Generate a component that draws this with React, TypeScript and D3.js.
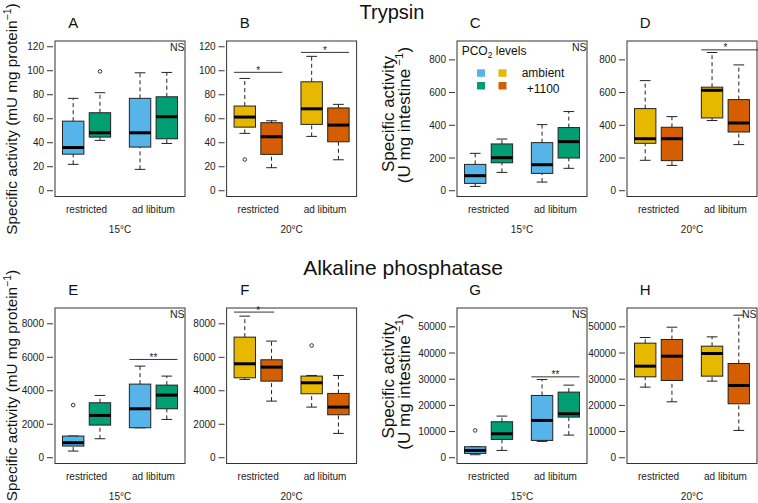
import React from "react";
import * as d3 from "d3";

const categories = ["restricted", "ad libitum"];
const temps = ["15°C", "20°C", "15°C", "20°C", "15°C", "20°C", "15°C", "20°C"];
const panelLetters = ["A", "B", "C", "D", "E", "F", "G", "H"];
const titles = ["Trypsin", "Alkaline phosphatase"];
const legendLabels = ["ambient", "+1100"];

// box stats: [lowWhisker, q1, median, q3, highWhisker]; order: restricted-ambient, restricted-+1100, adlib-ambient, adlib-+1100
const trypsinProt15 = [[22, 30.5, 36, 58, 77], [42, 44.7, 48.3, 65, 81.7], [17.8, 36.4, 48.3, 77, 98.3], [39.4, 43.3, 61.7, 78.3, 98.6]];
const trypsinProt20 = [[47.8, 53, 61.4, 70.6, 93.6], [19.2, 30.3, 45, 56.7, 58.3], [45.3, 55.3, 68.3, 90.8, 112], [25.8, 40.8, 54.7, 69, 72]];
const trypsinInt15 = [[26.5, 45, 92, 161, 228.6], [112, 171, 202, 286, 316], [53, 106, 159, 294, 404], [137, 200, 300, 386, 484]];
const trypsinInt20 = [[186, 290, 318, 502, 673], [155, 184, 318, 388, 453], [429, 445, 614, 633, 845], [282, 359, 414, 557, 769]];
const alpProt15 = [[398, 697, 896, 1294, 1300], [1134, 1950, 2527, 3284, 3721], [1791, 1791, 2925, 4398, 5473], [2289, 2925, 3741, 4338, 4876]];
const alpProt20 = [[4677, 4776, 5612, 7204, 8458], [3383, 4577, 5413, 5851, 6965], [3025, 3821, 4478, 4876, 4915], [1453, 2567, 3025, 3841, 4915]];
const alpInt15 = [[1145, 1654, 2799, 4198, 4198], [2799, 6997, 9160, 13740, 15903], [6234, 6616, 14249, 23791, 29898], [8651, 15522, 16794, 25064, 27735]];
const alpInt20 = [[26972, 30916, 34987, 43766, 45929], [21374, 29517, 38804, 45165, 49873], [29262, 31170, 39822, 42621, 46183], [10433, 20611, 27608, 36005, 54453]];

const outA = [[], [99.5], [], []];
const outB = [[26], [], [], []];
const outE = [[3144], [], [], []];
const outF = [[], [], [6706], []];
const outG = [[10433], [], [], []];
const noOut = [[], [], [], []];

const ylimProt = [0, 120];
const ylimInt = [0, 880];
const ylimAlpProt = [0, 8600];
const ylimAlpInt = [0, 55000];
const ticksProt = [0, 20, 40, 60, 80, 100, 120];
const ticksInt = [0, 200, 400, 600, 800];
const ticksAlpProt = [0, 2000, 4000, 6000, 8000];
const ticksAlpInt = [0, 10000, 20000, 30000, 40000, 50000];

// significance: [fromPos, toPos, starPos, value, label]
const sigB = [[0.6, 2.4, 1.5, 98.7, "*"], [3.1, 4.9, 4.0, 115.3, "*"]];
const sigD = [[3.1, 5.3, 4.0, 861, "*"]];
const sigE = [[3.1, 4.9, 4.0, 5870, "**"]];
const sigF = [[0.6, 2.1, 1.5, 8700, "*"]];
const sigG = [[3.1, 4.9, 4.0, 30900, "**"]];

const COLORS15 = ["#56B4E9", "#009E73"];
const COLORS20 = ["#E6B800", "#D55E00"];
const FONT = "'Liberation Sans', Arial, Helvetica, sans-serif";
const positions = [1, 2, 3.5, 4.5];

const panels = [
  { stats: trypsinProt15, out: outA, ylim: ylimProt, ticks: ticksProt, sig: [], ns: true, left: 55, top: 41, colors: COLORS15 },
  { stats: trypsinProt20, out: outB, ylim: ylimProt, ticks: ticksProt, sig: sigB, ns: false, left: 226.6, top: 41, colors: COLORS20 },
  { stats: trypsinInt15, out: noOut, ylim: ylimInt, ticks: ticksInt, sig: [], ns: true, left: 457, top: 41, colors: COLORS15 },
  { stats: trypsinInt20, out: noOut, ylim: ylimInt, ticks: ticksInt, sig: sigD, ns: false, left: 627, top: 41, colors: COLORS20 },
  { stats: alpProt15, out: outE, ylim: ylimAlpProt, ticks: ticksAlpProt, sig: sigE, ns: true, left: 55, top: 308, colors: COLORS15 },
  { stats: alpProt20, out: outF, ylim: ylimAlpProt, ticks: ticksAlpProt, sig: sigF, ns: false, left: 226.6, top: 308, colors: COLORS20 },
  { stats: alpInt15, out: outG, ylim: ylimAlpInt, ticks: ticksAlpInt, sig: sigG, ns: true, left: 457, top: 308, colors: COLORS15 },
  { stats: alpInt20, out: noOut, ylim: ylimAlpInt, ticks: ticksAlpInt, sig: [], ns: true, left: 627, top: 308, colors: COLORS20 },
];

const PW = 130;
const PH = 155.5;

function Panel({ p, i }: { p: any; i: number }) {
  const x = d3.scaleLinear().domain([0.32, 5.18]).range([p.left, p.left + PW]);
  const span = p.ylim[1] - p.ylim[0];
  const y = d3
    .scaleLinear()
    .domain([p.ylim[0] - 0.04 * span, p.ylim[1] + 0.04 * span])
    .range([p.top + PH, p.top]);
  const bw = 0.8;
  const stroke = "#222";
  const colors = [p.colors[0], p.colors[1], p.colors[0], p.colors[1]];
  const fmt = d3.format("d");
  return (
    <g>
      <text x={x(1)} y={p.top - 13} fontSize={15} textAnchor="middle" fontFamily={FONT} fill="#111">
        {panelLetters[i]}
      </text>
      {p.stats.map((s: number[], k: number) => {
        const c = positions[k];
        const x0 = x(c - bw / 2);
        const x1 = x(c + bw / 2);
        const cx = x(c);
        return (
          <g key={k}>
            <line x1={cx} x2={cx} y1={y(s[3])} y2={y(s[4])} stroke={stroke} strokeDasharray="4,3" strokeWidth={1} />
            <line x1={cx} x2={cx} y1={y(s[0])} y2={y(s[1])} stroke={stroke} strokeDasharray="4,3" strokeWidth={1} />
            <line x1={x(c - 0.2)} x2={x(c + 0.2)} y1={y(s[4])} y2={y(s[4])} stroke={stroke} strokeWidth={1} />
            <line x1={x(c - 0.2)} x2={x(c + 0.2)} y1={y(s[0])} y2={y(s[0])} stroke={stroke} strokeWidth={1} />
            <rect x={x0} y={y(s[3])} width={x1 - x0} height={y(s[1]) - y(s[3])} fill={colors[k]} stroke={stroke} strokeWidth={1} />
            <line x1={x0} x2={x1} y1={y(s[2])} y2={y(s[2])} stroke="#000" strokeWidth={3} />
            {p.out[k].map((o: number, j: number) => (
              <circle key={j} cx={cx} cy={y(o)} r={1.8} fill="none" stroke={stroke} strokeWidth={0.9} />
            ))}
          </g>
        );
      })}
      <rect x={p.left} y={p.top} width={PW} height={PH} fill="none" stroke="#333" strokeWidth={1} />
      {p.ticks.map((t: number) => (
        <g key={t}>
          <line x1={p.left - 8} x2={p.left - 2} y1={y(t)} y2={y(t)} stroke="#333" strokeWidth={1} />
          <text x={p.left - 11} y={y(t) + 3.5} fontSize={10} textAnchor="end" fontFamily={FONT} fill="#222">
            {fmt(t)}
          </text>
        </g>
      ))}
      {categories.map((c, k) => (
        <text key={c} x={x(k === 0 ? 1.5 : 4)} y={p.top + PH + 16.5} fontSize={10} textAnchor="middle" fontFamily={FONT} fill="#222">
          {c}
        </text>
      ))}
      <text x={p.left + PW / 2} y={p.top + PH + 36} fontSize={10} textAnchor="middle" fontFamily={FONT} fill="#222">
        {temps[i]}
      </text>
      {p.ns && (
        <text x={p.left + PW - 0.5} y={p.top + 9.5} fontSize={10.5} textAnchor="end" fontFamily={FONT} fill="#222">
          NS
        </text>
      )}
      {p.sig.map((s: any[], k: number) => (
        <g key={k}>
          <line x1={x(s[0])} x2={Math.min(x(s[1]), 758)} y1={y(s[3])} y2={y(s[3])} stroke="#333" strokeWidth={1} />
          <text x={x(s[2])} y={y(s[3]) + 1.5} fontSize={10} textAnchor="middle" fontFamily={FONT} fill="#222">
            {s[4]}
          </text>
        </g>
      ))}
    </g>
  );
}

export default function App() {
  const rowCenters = [119, 385.5];
  return (
    <svg width={758} height={503} style={{ position: "absolute", left: 0, top: 0, background: "#fff" }}>
      <rect width={758} height={503} fill="#fff" />
      <text x={392} y={18.5} fontSize={20} textAnchor="middle" fontFamily={FONT} fill="#111">
        {titles[0]}
      </text>
      <text x={403} y={275} fontSize={21} textAnchor="middle" fontFamily={FONT} fill="#111">
        {titles[1]}
      </text>
      {rowCenters.map((cy, r) => (
        <g key={r}>
          <text transform={`translate(17,${cy}) rotate(-90)`} fontSize={15.3} textAnchor="middle" fontFamily={FONT} fill="#111">
            Specific activity (mU mg protein
            <tspan fontSize={10.5} dy={-6}>−1</tspan>
            <tspan dy={6}>)</tspan>
          </text>
          <text transform={`translate(394,${cy - 5}) rotate(-90)`} fontSize={17} textAnchor="middle" fontFamily={FONT} fill="#111">
            Specific activity
          </text>
          <text transform={`translate(410,${cy - 4}) rotate(-90)`} fontSize={17} textAnchor="middle" fontFamily={FONT} fill="#111">
            (U mg intestine
            <tspan fontSize={11.5} dy={-7}> −1</tspan>
            <tspan dy={7}>)</tspan>
          </text>
        </g>
      ))}
      {panels.map((p, i) => (
        <Panel key={i} p={p} i={i} />
      ))}
      <g>
        <text x={461.7} y={55} fontSize={12} fontFamily={FONT} fill="#111">
          PCO<tspan fontSize={8.5} dy={3}>2</tspan>
          <tspan dy={-3}> levels</tspan>
        </text>
        {[COLORS15, COLORS20].map((cols, ci) =>
          cols.map((c, ri) => (
            <rect key={`${ci}-${ri}`} x={ci === 0 ? 477 : 498.5} y={ri === 0 ? 69.3 : 82} width={8} height={7.5} fill={c} />
          ))
        )}
        <text x={521.7} y={77} fontSize={12} fontFamily={FONT} fill="#111">{legendLabels[0]}</text>
        <text x={526.7} y={93} fontSize={12} fontFamily={FONT} fill="#111">{legendLabels[1]}</text>
      </g>
    </svg>
  );
}
